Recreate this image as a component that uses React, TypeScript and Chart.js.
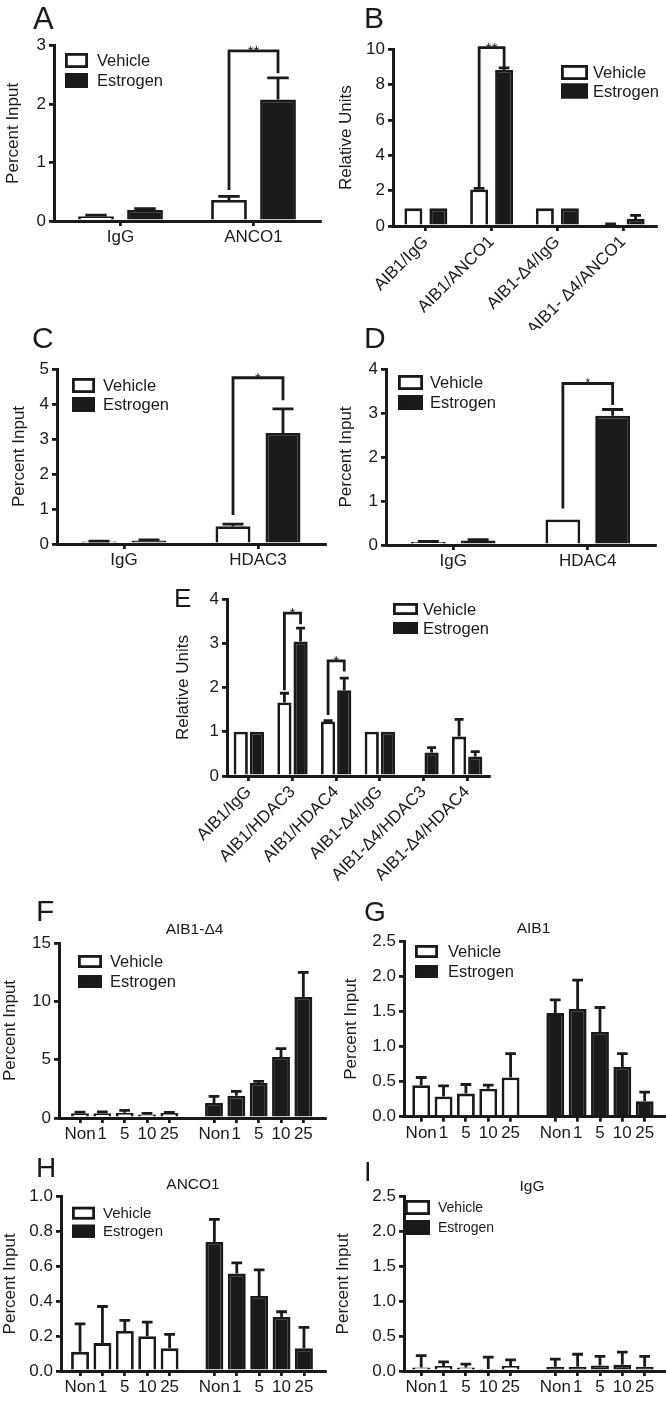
import React, { useEffect, useRef } from 'react';
import { Chart, registerables } from 'chart.js';

Chart.register(...registerables);

const FONT = '"Liberation Sans", Arial, Helvetica, sans-serif';
const INK = '#1a1a1a';
const AXIS_FONT = 17;

Chart.defaults.font.family = FONT;
Chart.defaults.font.size = AXIS_FONT;
Chart.defaults.color = INK;

const seriesNames = ['Vehicle', 'Estrogen'];

// ---------- Panel A ----------
const aLabels = ['IgG', 'ANCO1'];
const aVehicle = [0.08, 0.36];
const aVehicleSem = [0.02, 0.06];
const aEstrogen = [0.19, 2.08];
const aEstrogenSem = [0.02, 0.37];
const aSig = [{ index: 1, left: 0.53, top: 2.91, right: 2.53, text: '**' }];

// ---------- Panel B ----------
const bLabels = ['AIB1/IgG', 'AIB1/ANCO1', 'AIB1-\u03944/IgG', 'AIB1- \u03944/ANCO1'];
const bVehicle = [1, 2.07, 1, 0.1];
const bVehicleSem = [0, 0.06, 0, 0.02];
const bEstrogen = [1, 8.83, 1, 0.4];
const bEstrogenSem = [0, 0.12, 0, 0.2];
const bSig = [{ index: 1, left: 2.15, top: 10.09, right: 8.94, text: '**' }];

// ---------- Panel C ----------
const cLabels = ['IgG', 'HDAC3'];
const cVehicle = [0.07, 0.51];
const cVehicleSem = [0.01, 0.06];
const cEstrogen = [0.1, 3.17];
const cEstrogenSem = [0.02, 0.69];
const cSig = [{ index: 1, left: 0.83, top: 4.75, right: 4.11, text: '*' }];

// ---------- Panel D ----------
const dLabels = ['IgG', 'HDAC4'];
const dVehicle = [0.07, 0.58];
const dVehicleSem = [0.01, 0];
const dEstrogen = [0.1, 2.94];
const dEstrogenSem = [0.02, 0.14];
const dSig = [{ index: 1, left: 0.83, top: 3.67, right: 3.18, text: '*' }];

// ---------- Panel E ----------
const eLabels = ['AIB1/IgG', 'AIB1/HDAC3', 'AIB1/HDAC4', 'AIB1-\u03944/IgG', 'AIB1-\u03944/HDAC3', 'AIB1-\u03944/HDAC4'];
const eVehicle = [1, 1.66, 1.23, 1, 0, 0.89];
const eVehicleSem = [0, 0.21, 0.02, 0, 0, 0.39];
const eEstrogen = [1, 3.04, 1.94, 1, 0.53, 0.44];
const eEstrogenSem = [0, 0.3, 0.27, 0, 0.11, 0.11];
const eSig = [
  { index: 1, left: 1.94, top: 3.68, right: 3.43, text: '*' },
  { index: 2, left: 1.38, top: 2.6, right: 2.36, text: '*' },
];

// ---------- Dose panels F-I ----------
const doseLabels = ['Non', '1', '5', '10', '25', 'Non', '1', '5', '10', '25'];
const vehicleSlots = [0, 1, 2, 3, 4];
const estrogenSlots = [6, 7, 8, 9, 10];
const doseTickSlots = [0, 1, 2, 3, 4, 6, 7, 8, 9, 10];

const fVehicle = [0.4, 0.4, 0.45, 0.3, 0.42];
const fVehicleSem = [0.1, 0.12, 0.2, 0.1, 0.05];
const fEstrogen = [1.29, 1.91, 3.0, 5.23, 10.37];
const fEstrogenSem = [0.57, 0.38, 0.14, 0.71, 2.12];

const gVehicle = [0.45, 0.29, 0.33, 0.4, 0.56];
const gVehicleSem = [0.11, 0.15, 0.13, 0.05, 0.34];
const gEstrogen = [1.48, 1.54, 1.21, 0.71, 0.22];
const gEstrogenSem = [0.19, 0.41, 0.35, 0.19, 0.13];

const hVehicle = [0.11, 0.16, 0.23, 0.2, 0.13];
const hVehicleSem = [0.16, 0.21, 0.06, 0.08, 0.08];
const hEstrogen = [0.74, 0.56, 0.43, 0.31, 0.13];
const hEstrogenSem = [0.13, 0.06, 0.15, 0.03, 0.12];

const iVehicle = [0.05, 0.07, 0.05, 0.03, 0.07];
const iVehicleSem = [0.17, 0.06, 0.05, 0.17, 0.09];
const iEstrogen = [0.06, 0.06, 0.08, 0.09, 0.06];
const iEstrogenSem = [0.11, 0.18, 0.13, 0.18, 0.15];

// ---------- plugins ----------
function errorBarPlugin() {
  return {
    id: 'errorBars',
    afterDatasetsDraw(chart: any) {
      const ctx = chart.ctx;
      const y = chart.scales.y;
      chart.data.datasets.forEach((ds: any, di: number) => {
        const errs = ds.errors as number[] | undefined;
        if (!errs) return;
        const meta = chart.getDatasetMeta(di);
        meta.data.forEach((bar: any, i: number) => {
          const e = errs[i];
          if (!e) return;
          const raw = ds.data[i];
          const v = typeof raw === 'number' ? raw : raw.y;
          const top = y.getPixelForValue(v + e);
          const half = Math.max(4.5, bar.width * 0.3);
          ctx.save();
          ctx.strokeStyle = INK;
          ctx.lineWidth = 2.8;
          ctx.beginPath();
          ctx.moveTo(bar.x, bar.y);
          ctx.lineTo(bar.x, top);
          ctx.moveTo(bar.x - half, top);
          ctx.lineTo(bar.x + half, top);
          ctx.stroke();
          ctx.restore();
        });
      });
    },
  };
}

function bracketPlugin(items: any[], size: number) {
  return {
    id: 'brackets',
    afterDatasetsDraw(chart: any) {
      const ctx = chart.ctx;
      const y = chart.scales.y;
      const m0 = chart.getDatasetMeta(0);
      const m1 = chart.getDatasetMeta(1);
      items.forEach((b) => {
        const x0 = m0.data[b.index].x;
        const x1 = m1.data[b.index].x;
        const yl = y.getPixelForValue(b.left);
        const yt = y.getPixelForValue(b.top);
        const yr = y.getPixelForValue(b.right);
        ctx.save();
        ctx.strokeStyle = INK;
        ctx.lineWidth = 2.8;
        ctx.lineJoin = 'miter';
        ctx.beginPath();
        ctx.moveTo(x0, yl);
        ctx.lineTo(x0, yt);
        ctx.lineTo(x1, yt);
        ctx.lineTo(x1, yr);
        ctx.stroke();
        ctx.fillStyle = INK;
        ctx.font = `${size}px ${FONT}`;
        ctx.textAlign = 'center';
        ctx.textBaseline = 'alphabetic';
        ctx.fillText(b.text, (x0 + x1) / 2, yt + size * 0.32);
        ctx.restore();
      });
    },
  };
}

function legendPlugin(o: any) {
  return {
    id: 'boxLegend',
    afterDraw(chart: any) {
      const ctx = chart.ctx;
      const { left, top } = chart.chartArea;
      chart.data.datasets.forEach((ds: any, i: number) => {
        const bx = left + o.dx;
        const by = top + o.dy + i * o.step;
        ctx.save();
        ctx.fillStyle = ds.backgroundColor;
        ctx.fillRect(bx, by, o.w, o.h);
        ctx.lineWidth = 2.8;
        ctx.strokeStyle = INK;
        ctx.strokeRect(bx + 1.4, by + 1.4, o.w - 2.8, o.h - 2.8);
        ctx.fillStyle = INK;
        ctx.font = `${o.size}px ${FONT}`;
        ctx.textAlign = 'left';
        ctx.textBaseline = 'middle';
        ctx.fillText(ds.label, bx + o.w + o.gap, by + o.h / 2 + 1);
        ctx.restore();
      });
    },
  };
}

// ---------- config builder ----------
type Rect = { x: number; y: number; w: number; h: number };
type Plot = { left: number; top: number; right: number; bottom: number };

type Spec = {
  id: string;
  canvas: Rect;
  plot: Plot;
  kind: 'category' | 'dose';
  labels: string[];
  vehicle: number[];
  vehicleSem: number[];
  estrogen: number[];
  estrogenSem: number[];
  yMax: number;
  yStep: number;
  yDecimals: number;
  yTitle: string;
  titlePad: number;
  legend: any;
  sig?: any[];
  sigSize?: number;
  cp?: number;
  bp?: number;
  rotation?: number;
  xMin?: number;
  xMax?: number;
};

function makeConfig(s: Spec): any {
  const c = s.canvas;
  const p = s.plot;
  const padTop = p.top - c.y;
  const padRight = c.x + c.w - p.right;
  const yWidth = p.left - c.x;
  const xHeight = c.y + c.h - p.bottom;
  const isDose = s.kind === 'dose';

  const common = (label: string, fill: string) => ({
    label,
    backgroundColor: fill,
    borderColor: INK,
    borderWidth: 2.8,
    borderSkipped: 'bottom',
  });

  const datasets = isDose
    ? [
        {
          ...common(seriesNames[0], '#ffffff'),
          data: s.vehicle.map((v, i) => ({ x: vehicleSlots[i], y: v })),
          errors: s.vehicleSem,
          grouped: false,
          categoryPercentage: 1,
          barPercentage: 0.8,
        },
        {
          ...common(seriesNames[1], INK),
          data: s.estrogen.map((v, i) => ({ x: estrogenSlots[i], y: v })),
          errors: s.estrogenSem,
          grouped: false,
          categoryPercentage: 1,
          barPercentage: 0.8,
        },
      ]
    : [
        {
          ...common(seriesNames[0], '#ffffff'),
          data: s.vehicle,
          errors: s.vehicleSem,
          categoryPercentage: s.cp,
          barPercentage: s.bp,
        },
        {
          ...common(seriesNames[1], INK),
          data: s.estrogen,
          errors: s.estrogenSem,
          categoryPercentage: s.cp,
          barPercentage: s.bp,
        },
      ];

  const gridCfg = {
    display: true,
    drawOnChartArea: false,
    drawTicks: true,
    tickLength: 5,
    lineWidth: 2.8,
    color: INK,
  };
  const borderCfg = { display: true, width: 3, color: INK };

  const xScale: any = isDose
    ? {
        type: 'linear',
        min: s.xMin,
        max: s.xMax,
        offset: false,
        z: 1,
        afterBuildTicks: (scale: any) => {
          scale.ticks = doseTickSlots.map((v) => ({ value: v }));
        },
        afterFit: (scale: any) => {
          scale.height = xHeight;
        },
        grid: { ...gridCfg, offset: false },
        border: borderCfg,
        ticks: {
          autoSkip: false,
          maxRotation: 0,
          minRotation: 0,
          padding: 1,
          color: INK,
          font: { size: AXIS_FONT },
          callback: (_v: any, idx: number) => doseLabels[idx],
        },
      }
    : {
        type: 'category',
        offset: true,
        z: 1,
        afterFit: (scale: any) => {
          scale.height = xHeight;
        },
        grid: { ...gridCfg, offset: false },
        border: borderCfg,
        ticks: {
          autoSkip: false,
          maxRotation: s.rotation || 0,
          minRotation: s.rotation || 0,
          padding: 1,
          color: INK,
          font: { size: AXIS_FONT },
        },
      };

  return {
    type: 'bar',
    data: { labels: isDose ? undefined : s.labels, datasets },
    options: {
      responsive: false,
      animation: false,
      devicePixelRatio: 1,
      events: [],
      layout: { padding: { left: 0, top: padTop, right: padRight, bottom: 0 } },
      plugins: {
        legend: { display: false },
        tooltip: { enabled: false },
        title: { display: false },
      },
      scales: {
        x: xScale,
        y: {
          type: 'linear',
          min: 0,
          max: s.yMax,
          z: 1,
          afterFit: (scale: any) => {
            scale.width = yWidth;
          },
          grid: gridCfg,
          border: borderCfg,
          ticks: {
            stepSize: s.yStep,
            padding: 3,
            color: INK,
            font: { size: AXIS_FONT },
            callback: (v: any) => Number(v).toFixed(s.yDecimals),
          },
          title: {
            display: true,
            text: s.yTitle,
            color: INK,
            font: { size: AXIS_FONT },
            padding: { top: s.titlePad, bottom: 0 },
          },
        },
      },
    },
    plugins: [
      errorBarPlugin(),
      ...(s.sig ? [bracketPlugin(s.sig, s.sigSize || 15)] : []),
      legendPlugin(s.legend),
    ],
  };
}

const specs: Spec[] = [
  {
    id: 'A',
    canvas: { x: 0, y: 0, w: 333, h: 250 },
    plot: { left: 54, top: 45.7, right: 320, bottom: 221 },
    kind: 'category',
    labels: aLabels,
    vehicle: aVehicle,
    vehicleSem: aVehicleSem,
    estrogen: aEstrogen,
    estrogenSem: aEstrogenSem,
    yMax: 3,
    yStep: 1,
    yDecimals: 0,
    yTitle: 'Percent Input',
    titlePad: 3.5,
    legend: { dx: 11, dy: 7.3, w: 23, h: 15, step: 20, gap: 9, size: 16.5 },
    sig: aSig,
    sigSize: 15,
    cp: 0.737,
    bp: 0.73,
  },
  {
    id: 'B',
    canvas: { x: 333, y: 0, w: 333, h: 330 },
    plot: { left: 393, top: 49.3, right: 656, bottom: 226 },
    kind: 'category',
    labels: bLabels,
    vehicle: bVehicle,
    vehicleSem: bVehicleSem,
    estrogen: bEstrogen,
    estrogenSem: bEstrogenSem,
    yMax: 10,
    yStep: 2,
    yDecimals: 0,
    yTitle: 'Relative Units',
    titlePad: 3,
    legend: { dx: 168, dy: 15.7, w: 27, h: 15, step: 18.5, gap: 5, size: 16.5 },
    sig: bSig,
    sigSize: 15,
    cp: 0.76,
    bp: 0.72,
    rotation: 45,
  },
  {
    id: 'C',
    canvas: { x: 0, y: 330, w: 333, h: 240 },
    plot: { left: 57, top: 369, right: 325, bottom: 544 },
    kind: 'category',
    labels: cLabels,
    vehicle: cVehicle,
    vehicleSem: cVehicleSem,
    estrogen: cEstrogen,
    estrogenSem: cEstrogenSem,
    yMax: 5,
    yStep: 1,
    yDecimals: 0,
    yTitle: 'Percent Input',
    titlePad: 9.5,
    legend: { dx: 15, dy: 9, w: 23, h: 15, step: 19, gap: 8, size: 16.5 },
    sig: cSig,
    sigSize: 15,
    cp: 0.746,
    bp: 0.7,
  },
  {
    id: 'D',
    canvas: { x: 333, y: 330, w: 333, h: 240 },
    plot: { left: 386, top: 369, right: 655, bottom: 545 },
    kind: 'category',
    labels: dLabels,
    vehicle: dVehicle,
    vehicleSem: dVehicleSem,
    estrogen: dEstrogen,
    estrogenSem: dEstrogenSem,
    yMax: 4,
    yStep: 1,
    yDecimals: 0,
    yTitle: 'Percent Input',
    titlePad: 3.5,
    legend: { dx: 12, dy: 6, w: 25, h: 15, step: 20, gap: 7, size: 16.5 },
    sig: dSig,
    sigSize: 12,
    cp: 0.74,
    bp: 0.7,
  },
  {
    id: 'E',
    canvas: { x: 160, y: 575, w: 340, h: 320 },
    plot: { left: 227, top: 599, right: 489, bottom: 776 },
    kind: 'category',
    labels: eLabels,
    vehicle: eVehicle,
    vehicleSem: eVehicleSem,
    estrogen: eEstrogen,
    estrogenSem: eEstrogenSem,
    yMax: 4,
    yStep: 1,
    yDecimals: 0,
    yTitle: 'Relative Units',
    titlePad: 13.5,
    legend: { dx: 166, dy: 4, w: 25, h: 12, step: 19, gap: 5, size: 16.5 },
    sig: eSig,
    sigSize: 15,
    cp: 0.74,
    bp: 0.88,
    rotation: 45,
  },
  {
    id: 'F',
    canvas: { x: 0, y: 900, w: 333, h: 250 },
    plot: { left: 59, top: 943, right: 325, bottom: 1118 },
    kind: 'dose',
    labels: doseLabels,
    vehicle: fVehicle,
    vehicleSem: fVehicleSem,
    estrogen: fEstrogen,
    estrogenSem: fEstrogenSem,
    yMax: 15,
    yStep: 5,
    yDecimals: 0,
    yTitle: 'Percent Input',
    titlePad: 0,
    legend: { dx: 19, dy: 12, w: 24, h: 13, step: 20, gap: 8, size: 16.5 },
    xMin: -0.94,
    xMax: 10.97,
  },
  {
    id: 'G',
    canvas: { x: 333, y: 900, w: 333, h: 250 },
    plot: { left: 404, top: 941.7, right: 665, bottom: 1116.7 },
    kind: 'dose',
    labels: doseLabels,
    vehicle: gVehicle,
    vehicleSem: gVehicleSem,
    estrogen: gEstrogen,
    estrogenSem: gEstrogenSem,
    yMax: 2.5,
    yStep: 0.5,
    yDecimals: 1,
    yTitle: 'Percent Input',
    titlePad: 8.5,
    legend: { dx: 11, dy: 3.3, w: 23, h: 13, step: 20, gap: 10, size: 16.5 },
    xMin: -0.77,
    xMax: 10.91,
  },
  {
    id: 'H',
    canvas: { x: 0, y: 1150, w: 333, h: 251 },
    plot: { left: 61, top: 1196.7, right: 325, bottom: 1371 },
    kind: 'dose',
    labels: doseLabels,
    vehicle: hVehicle,
    vehicleSem: hVehicleSem,
    estrogen: hEstrogen,
    estrogenSem: hEstrogenSem,
    yMax: 1,
    yStep: 0.2,
    yDecimals: 1,
    yTitle: 'Percent Input',
    titlePad: 0,
    legend: { dx: 11, dy: 10, w: 23, h: 13, step: 18, gap: 8, size: 15 },
    xMin: -0.85,
    xMax: 10.94,
  },
  {
    id: 'I',
    canvas: { x: 333, y: 1150, w: 333, h: 251 },
    plot: { left: 404, top: 1196.7, right: 665, bottom: 1371 },
    kind: 'dose',
    labels: doseLabels,
    vehicle: iVehicle,
    vehicleSem: iVehicleSem,
    estrogen: iEstrogen,
    estrogenSem: iEstrogenSem,
    yMax: 2.5,
    yStep: 0.5,
    yDecimals: 1,
    yTitle: 'Percent Input',
    titlePad: 0,
    legend: { dx: 1, dy: 3.3, w: 25, h: 15, step: 20, gap: 8, size: 14 },
    xMin: -0.77,
    xMax: 10.91,
  },
];

const panelLetters = [
  { t: 'A', x: 33, y: 7, s: 31 },
  { t: 'B', x: 364, y: 7, s: 30 },
  { t: 'C', x: 32, y: 327, s: 30 },
  { t: 'D', x: 364, y: 327, s: 30 },
  { t: 'E', x: 174, y: 588, s: 26 },
  { t: 'F', x: 36, y: 900, s: 30 },
  { t: 'G', x: 364, y: 902, s: 28 },
  { t: 'H', x: 36, y: 1158, s: 28 },
  { t: 'I', x: 364, y: 1163, s: 27 },
];

const panelTitles = [
  { t: 'AIB1-\u03944', cx: 194.5, y: 923, s: 15.5 },
  { t: 'AIB1', cx: 533.5, y: 922, s: 15.5 },
  { t: 'ANCO1', cx: 193, y: 1178, s: 15.5 },
  { t: 'IgG', cx: 532, y: 1180, s: 15.5 },
];

function ChartPanel({ spec }: { spec: Spec }) {
  const ref = useRef<HTMLCanvasElement>(null);
  useEffect(() => {
    const chart = new Chart(ref.current as HTMLCanvasElement, makeConfig(spec));
    return () => chart.destroy();
  }, [spec]);
  const c = spec.canvas;
  return (
    <canvas
      ref={ref}
      width={c.w}
      height={c.h}
      style={{ position: 'absolute', left: c.x, top: c.y, width: c.w, height: c.h, display: 'block' }}
    />
  );
}

export default function App() {
  return (
    <div
      style={{
        position: 'absolute',
        left: 0,
        top: 0,
        width: 666,
        height: 1401,
        background: '#ffffff',
        overflow: 'hidden',
        fontFamily: FONT,
        color: INK,
      }}
    >
      {specs.map((s) => (
        <ChartPanel key={s.id} spec={s} />
      ))}
      {panelLetters.map((l) => (
        <div
          key={l.t}
          style={{
            position: 'absolute',
            left: l.x,
            top: l.y - 0.13 * l.s,
            fontSize: l.s,
            lineHeight: 1,
            whiteSpace: 'nowrap',
          }}
        >
          {l.t}
        </div>
      ))}
      {panelTitles.map((t) => (
        <div
          key={t.t}
          style={{
            position: 'absolute',
            left: t.cx - 60,
            width: 120,
            textAlign: 'center',
            top: t.y - 0.13 * t.s,
            fontSize: t.s,
            lineHeight: 1,
            whiteSpace: 'nowrap',
          }}
        >
          {t.t}
        </div>
      ))}
    </div>
  );
}
